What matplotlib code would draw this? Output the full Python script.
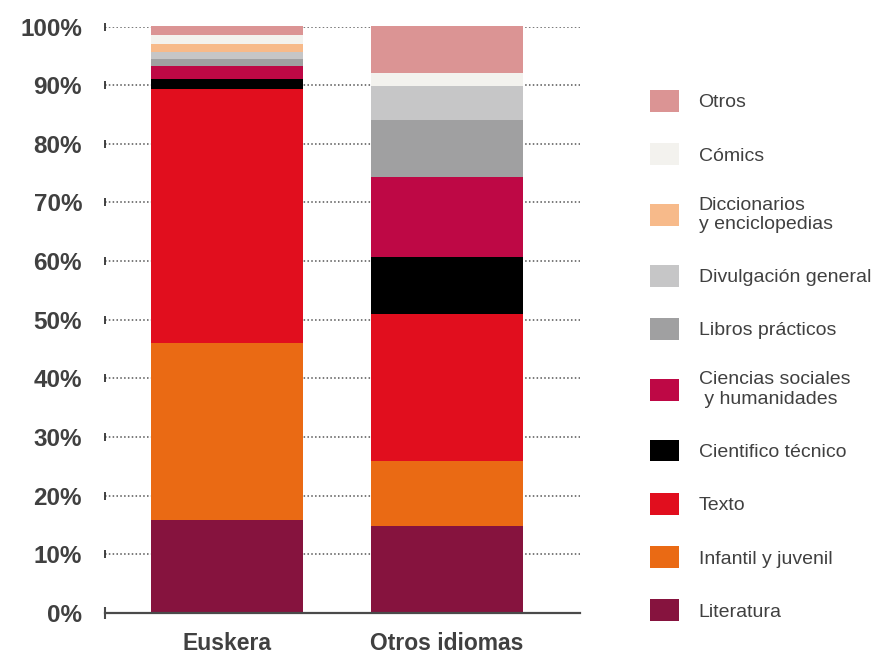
import matplotlib
matplotlib.use('Agg')
import matplotlib.pyplot as plt
import numpy as np

plt.rcParams['font.family'] = ['Liberation Sans', 'DejaVu Sans']

# Datos (% sobre el total de cada idioma)
idiomas = ['Euskera', 'Otros idiomas']
categorias = ['Literatura', 'Infantil y juvenil', 'Texto', 'Cientifico técnico',
              'Ciencias sociales\n y humanidades', 'Libros prácticos',
              'Divulgación general', 'Diccionarios\ny enciclopedias', 'Cómics', 'Otros']
euskera = [15.8, 30.2, 43.3, 1.7, 2.2, 1.3, 1.1, 1.5, 1.5, 1.4]
otros_idiomas = [14.8, 11.1, 25.0, 9.85, 13.65, 9.7, 5.8, 0.0, 2.2, 7.9]
colores = ['#86133E', '#EA6A14', '#E10E1E', '#000000', '#BE0845',
           '#A0A0A1', '#C6C6C7', '#F7BA8A', '#F3F2EE', '#DB9494']
yticks = [0, 10, 20, 30, 40, 50, 60, 70, 80, 90, 100]

texto_color = '#404040'

fig = plt.figure(figsize=(8.76, 6.55), dpi=100)
ax = fig.add_axes([105 / 876, 1 - 613 / 655, 475 / 876, (613 - 26.5) / 655])

x = np.arange(len(idiomas))
valores = np.array([euskera, otros_idiomas])
bottom = np.zeros(len(idiomas))
handles = []
for i, cat in enumerate(categorias):
    b = ax.bar(x, valores[:, i], bottom=bottom, width=0.69, color=colores[i],
               label=cat, zorder=3, clip_on=False)
    handles.append(b)
    bottom += valores[:, i]

ax.set_xlim(-0.555, 1.605)
ax.set_ylim(0, 100)

# lineas de cuadricula punteadas con marca al inicio
for y in yticks[1:]:
    ax.axhline(y, color='#555555', lw=1.1, ls=(0, (1, 1.5)), zorder=1)
trans = ax.get_yaxis_transform()
ax.plot([0] * (len(yticks) - 1), yticks[1:], ls='none', marker='|',
        ms=6, mew=1.3, color='#333333', transform=trans, clip_on=False, zorder=2)
ax.plot([0], [0], ls='none', marker='|', ms=9, mew=1.5, color='#4a4a4a',
        transform=trans, clip_on=False, zorder=4)

for s in ['top', 'right', 'left']:
    ax.spines[s].set_visible(False)
ax.spines['bottom'].set_color('#4a4a4a')
ax.spines['bottom'].set_linewidth(1.6)
ax.spines['bottom'].set_zorder(4)

ax.set_yticks(yticks)
ax.set_yticklabels([f'{v}%' for v in yticks])
ax.tick_params(axis='y', length=0, pad=16.5, labelsize=17.5, labelcolor=texto_color)
ax.set_xticks(x)
ax.set_xticklabels(idiomas)
ax.tick_params(axis='x', length=0, pad=14, labelsize=16.5, labelcolor=texto_color)
for lab in ax.get_xticklabels() + ax.get_yticklabels():
    lab.set_fontweight('bold')

leg = fig.legend(handles[::-1], categorias[::-1], loc='upper left',
                 bbox_to_anchor=(650 / 876, 1 - 90 / 655), frameon=False,
                 fontsize=14, labelcolor=texto_color, handlelength=1.5,
                 handleheight=1.35, handletextpad=1.0, labelspacing=1.62,
                 borderpad=0, borderaxespad=0)
for t in leg.get_texts():
    t.set_linespacing(1.2)

fig.savefig('out.png', dpi=100)
